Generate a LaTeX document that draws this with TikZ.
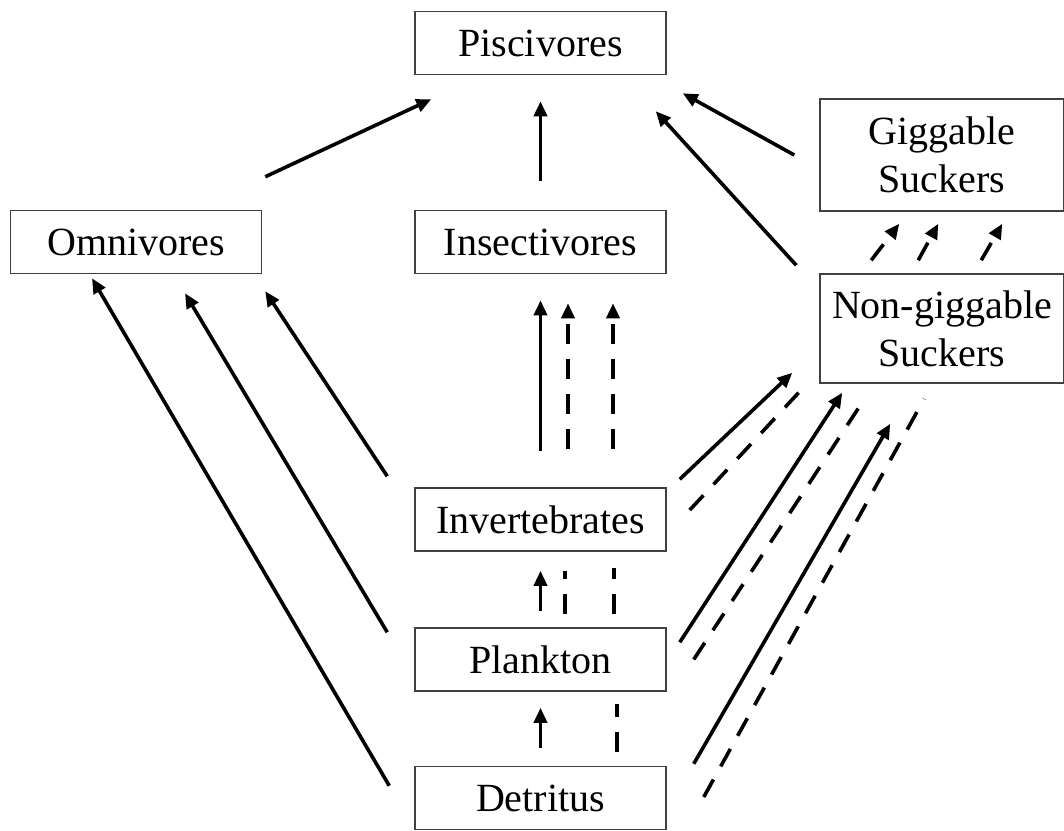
\documentclass[tikz,border=0pt]{standalone}
\usepackage{fontspec}
\setmainfont{Liberation Serif}
\usetikzlibrary{positioning,arrows.meta,calc}

\begin{document}
\begin{tikzpicture}[
  x=1pt, y=-1pt,
  every node/.style={font=\fontsize{40}{48}\selectfont},
  group/.style={rectangle, draw=black!75, line width=1.5pt, minimum width=251pt,
    minimum height=63pt, inner sep=0pt, align=center},
  sucker/.style={group, minimum width=244pt},
  feed/.style={line width=3.6pt, -{Triangle[length=15pt,width=13pt]}},
  dashfeed/.style={feed, dash pattern=on 20pt off 15pt},
  dashlink/.style={line width=3.6pt, dash pattern=on 20pt off 15pt}
]
  \useasboundingbox (0,0) rectangle (1064,830);

  % trophic groups
  \node[group] (pisc)   at (540.5,43)  {Piscivores};
  \node[group] (omni)   at (136,242)   {Omnivores};
  \node[group] (insect) at (540.5,242) {Insectivores};
  \node[group] (invert) at (540.5,519.5) {Invertebrates};
  \node[group] (plank)  at (540.5,659.5) {Plankton};
  \node[group] (detr)   at (540.5,798) {Detritus};
  \node[sucker, minimum height=112pt] (gig)    at (942,155)   {Giggable\\Suckers};
  \node[sucker, minimum height=109pt] (nongig) at (942,328.5) {Non-giggable\\Suckers};

  % into piscivores
  \draw[feed] ($(omni.north east)+(3,-33)$) -- ($(pisc.south west)+(17,24)$);
  \draw[feed] ($(insect.north)+(0,-29)$) -- ($(pisc.south)+(0,26)$);
  \draw[feed] ($(gig.west)+(-25,0)$) -- ($(pisc.south east)+(16,18)$);
  \draw[feed] ($(nongig.north west)+(-23,-8)$) -- ($(pisc.south east)+(-11,36)$);

  % into insectivores
  \draw[feed] ($(invert.north)+(0,-36)$) -- ($(insect.south)+(0,26)$);
  \draw[dashfeed] ($(invert.north)+(27.5,-38)$) -- ($(insect.south)+(27.5,29)$);
  \draw[dashfeed] ($(invert.north)+(72.5,-38)$) -- ($(insect.south)+(72.5,29)$);

  % into giggable suckers
  \foreach \a/\b in {52/80, 99/119, 162/183}
    \draw[dashfeed] ($(nongig.north west)+(\a,-13)$) -- ($(gig.south west)+(\b,12)$);

  % into omnivores
  \draw[feed] ($(invert.north west)+(-27,-11)$) -- ($(omni.south east)+(3,17)$);
  \draw[feed] ($(plank.north west)+(-27,5)$) -- ($(omni.south)+(49,19)$);
  \draw[feed] ($(detr.north west)+(-25,20)$) -- ($(omni.south)+(-44,4)$);

  % up the middle
  \draw[feed] ($(plank.north)+(0,-16)$) -- ($(invert.south)+(0,19)$);
  \draw[dashlink] ($(plank.north)+(24.5,-13)$) -- ($(invert.south)+(24.5,19)$);
  \draw[dashlink] ($(plank.north)+(73.5,-13)$) -- ($(invert.south)+(73.5,16)$);
  \draw[feed] ($(detr.north)+(0,-18)$) -- ($(plank.south)+(0,16)$);
  \draw[dashlink] ($(detr.north)+(76.5,-14)$) -- ($(plank.south)+(76.5,12)$);

  % into non-giggable suckers
  \draw[feed] ($(invert.north east)+(13,-8)$) -- ($(nongig.south west)+(-27,-11)$);
  \draw[dashlink] ($(invert.east)+(23,-9.5)$) -- ($(nongig.south west)+(-17,5)$);
  \draw[feed] ($(plank.north east)+(13,15)$) -- ($(nongig.south west)+(23,9)$);
  \draw[dashlink] ($(plank.east)+(27,0)$) -- ($(nongig.south west)+(46,14)$);
  \draw[feed] ($(detr.north east)+(27,-2)$) -- ($(nongig.south west)+(71,40)$);
  \draw[dashlink] ($(detr.east)+(37,-1)$) -- ($(nongig.south west)+(105,15)$);
\end{tikzpicture}
\end{document}
